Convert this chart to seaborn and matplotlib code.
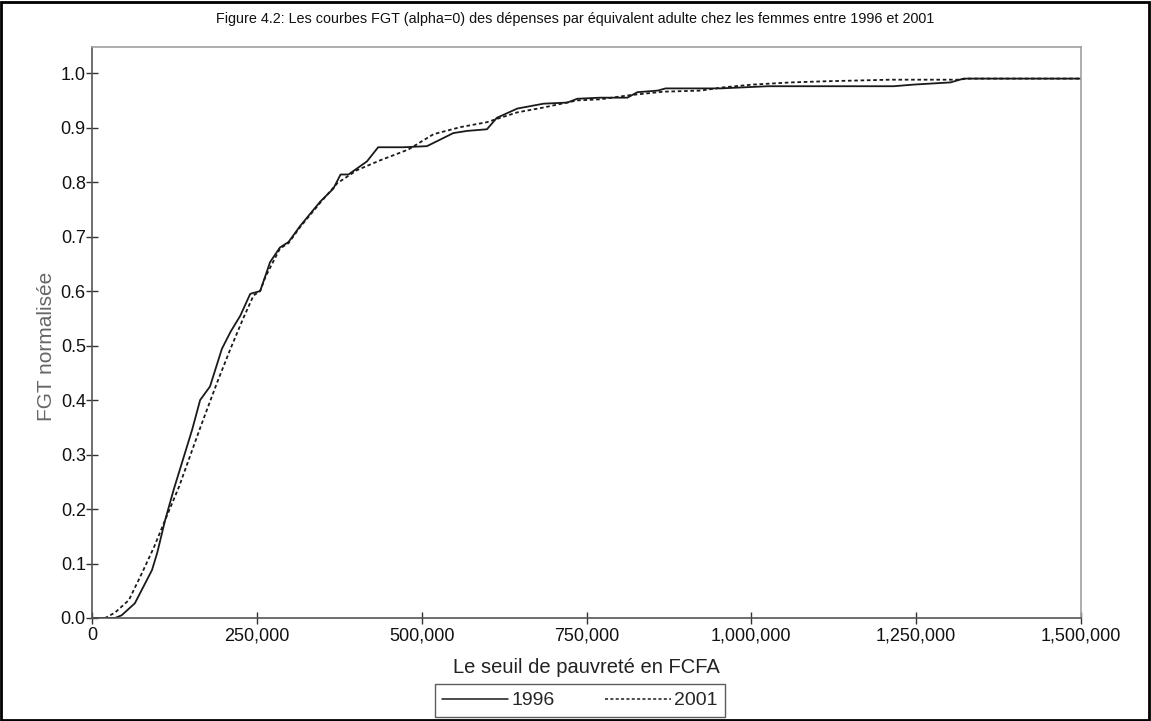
import matplotlib
matplotlib.use("Agg")
import matplotlib.pyplot as plt
from matplotlib.lines import Line2D
from matplotlib.patches import Rectangle
from matplotlib.ticker import FuncFormatter, MultipleLocator
import numpy as np
import pandas as pd
import seaborn as sns

# Poverty line (FCFA) and normalised FGT (alpha=0) for each survey year
seuil_1996 = [0, 35000, 45000, 65000, 91000, 99000, 111000, 124000, 152000, 164000,
              179000, 197000, 210000, 225000, 240000, 255000, 263000, 270000, 285000,
              298000, 316000, 346000, 366000, 377000, 389000, 417000, 434000, 472000,
              508000, 548000, 569000, 599000, 614000, 645000, 685000, 721000, 736000,
              771000, 812000, 827000, 858000, 870000, 953000, 1025000, 1216000,
              1246000, 1302000, 1322000, 1500000]
fgt_1996 = [0.0, 0.0, 0.005, 0.027, 0.088, 0.12, 0.18, 0.236, 0.346, 0.40,
            0.425, 0.494, 0.525, 0.555, 0.595, 0.600, 0.628, 0.653, 0.680,
            0.690, 0.720, 0.764, 0.788, 0.814, 0.814, 0.838, 0.864, 0.864,
            0.866, 0.890, 0.894, 0.897, 0.918, 0.935, 0.944, 0.946, 0.953,
            0.955, 0.955, 0.965, 0.968, 0.972, 0.972, 0.976, 0.976,
            0.979, 0.983, 0.990, 0.990]

seuil_2001 = [0, 20000, 35000, 56000, 76000, 94000, 111000, 132000, 165000, 190000,
              210000, 229000, 245000, 255000, 263000, 285000, 298000, 316000, 346000,
              372000, 402000, 437000, 463000, 480000, 518000, 559000, 599000, 614000,
              645000, 685000, 736000, 771000, 812000, 827000, 867000, 923000, 958000,
              1002000, 1060000, 1110000, 1211000, 1313000, 1330000, 1500000]
fgt_2001 = [0.0, 0.0, 0.01, 0.033, 0.083, 0.13, 0.18, 0.241, 0.352, 0.433,
            0.494, 0.549, 0.592, 0.600, 0.626, 0.678, 0.688, 0.718, 0.762,
            0.798, 0.822, 0.840, 0.852, 0.860, 0.888, 0.901, 0.910, 0.916,
            0.928, 0.937, 0.950, 0.952, 0.959, 0.961, 0.966, 0.968, 0.974,
            0.979, 0.983, 0.985, 0.988, 0.988, 0.990, 0.990]

annees = ["1996", "2001"]

df = pd.concat([
    pd.DataFrame({"seuil": seuil_1996, "fgt": fgt_1996, "annee": annees[0]}),
    pd.DataFrame({"seuil": seuil_2001, "fgt": fgt_2001, "annee": annees[1]}),
], ignore_index=True)

sns.set_theme(style="white")
plt.rcParams["font.family"] = ["Liberation Sans", "DejaVu Sans"]

W, H = 1151, 721
fig = plt.figure(figsize=(W / 100, H / 100), dpi=100)
ax = fig.add_axes([92 / W, 1 - 618 / H, (1081 - 92) / W, (618 - 47) / H])

dash_map = {"1996": "", "2001": (2.0, 1.5)}
sns.lineplot(data=df, x="seuil", y="fgt", style="annee", dashes=dash_map,
             color="#1a1a1a", linewidth=1.3, estimator=None, sort=False,
             legend=False, ax=ax)

ax.set_xlim(0, 1500000)
ax.set_ylim(0, 1.048)
ax.xaxis.set_major_locator(MultipleLocator(250000))
ax.yaxis.set_major_locator(MultipleLocator(0.1))
ax.xaxis.set_major_formatter(FuncFormatter(lambda v, p: f"{v:,.0f}"))
ax.yaxis.set_major_formatter(FuncFormatter(lambda v, p: f"{v:.1f}"))
ax.tick_params(axis="both", which="major", direction="inout", length=9,
               width=1.0, color="#333333", labelsize=13, labelcolor="#111111",
               bottom=True, left=True, top=False, right=False)
ax.tick_params(axis="x", pad=2)
ax.tick_params(axis="y", pad=0)

for side in ("left", "bottom"):
    ax.spines[side].set_color("#555555")
    ax.spines[side].set_linewidth(1.2)
for side in ("top", "right"):
    ax.spines[side].set_color("#a0a0a0")
    ax.spines[side].set_linewidth(1.2)

ax.set_xlabel("Le seuil de pauvreté en FCFA", fontsize=14.5, color="#222222", labelpad=10)
ax.set_ylabel("FGT normalisée", fontsize=15, color="#666666")
ax.yaxis.set_label_coords(-0.036, 0.475)

fig.text(0.5, 1 - 19 / H, "Figure 4.2: Les courbes FGT (alpha=0) des dépenses par équivalent adulte chez les femmes entre 1996 et 2001",
         ha="center", va="center", fontsize=10.4, color="#111111")

handles = [Line2D([], [], color="#1a1a1a", lw=1.1, linestyle="-"),
           Line2D([], [], color="#1a1a1a", lw=1.1, linestyle=(0, (2.0, 1.5)))]
leg = fig.legend(handles, annees, loc="center", ncol=2,
                 bbox_to_anchor=(580 / W, 1 - 700.5 / H), frameon=True,
                 fancybox=False, fontsize=14, handlelength=3.4,
                 columnspacing=2.6, handletextpad=0.15, borderpad=0.4,
                 borderaxespad=0)
leg.get_frame().set_edgecolor("#333333")
leg.get_frame().set_linewidth(1.0)

# outer frame around the whole figure
fig.patches.append(Rectangle((1 / W, 1 / H), 1 - 3 / W, 1 - 3 / H,
                             transform=fig.transFigure, fill=False,
                             edgecolor="black", linewidth=2.0))

fig.savefig("out.png", dpi=100, facecolor="white")
